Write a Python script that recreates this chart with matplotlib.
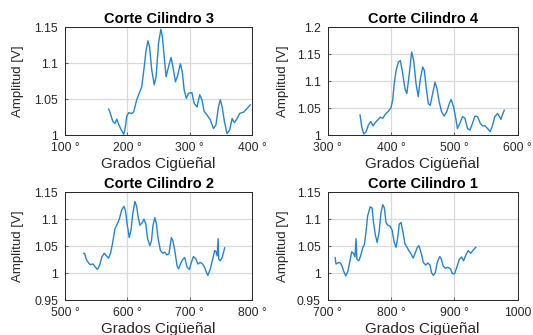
import matplotlib
matplotlib.use('Agg')
from matplotlib import pyplot as plt

plt.rcParams['font.family'] = ['Liberation Sans', 'DejaVu Sans']

# Corte Cilindro 3
c3_x = [170, 172.7, 176.6, 180, 183, 186, 189, 194, 196, 199, 202, 207, 210, 215, 219, 223, 227, 230,
        233, 235.5, 239, 243, 246, 250, 253.7, 256, 260, 262, 266, 270, 273, 277, 280, 285, 288, 291,
        294.5, 298, 303.5, 307, 311.6, 316, 319.6, 323, 327.6, 333, 338, 342, 346, 349, 352, 355.5,
        359.8, 364, 368, 371.6, 376, 380, 386.6, 392, 397]
c3_y = [1.036, 1.030, 1.019, 1.016, 1.022, 1.015, 1.009, 1.001, 1.007, 1.026, 1.031, 1.030, 1.032,
        1.049, 1.058, 1.067, 1.095, 1.118, 1.131, 1.123, 1.091, 1.070, 1.081, 1.128, 1.147, 1.137,
        1.100, 1.081, 1.095, 1.108, 1.095, 1.074, 1.081, 1.099, 1.088, 1.063, 1.051, 1.058, 1.059,
        1.044, 1.039, 1.056, 1.049, 1.033, 1.028, 1.021, 1.009, 1.014, 1.039, 1.049, 1.039, 1.019,
        1.002, 1.007, 1.023, 1.017, 1.023, 1.030, 1.032, 1.037, 1.042]

# Corte Cilindro 4
c4_x = [351, 353.7, 356.8, 360.5, 364, 367.9, 371.6, 375, 379, 383, 386.8, 392, 395.8, 400, 402.6,
        405, 408, 411.6, 414.7, 418.4, 422, 425, 428.9, 432.6, 435.8, 439.5, 443, 446, 450, 452.6,
        455.8, 459, 462, 465.8, 469.5, 472.6, 476, 480, 484, 488, 492, 495, 498.9, 502.6, 505, 508.9,
        513, 516.8, 521, 524.7, 528.9, 532.6, 536.8, 541, 544.7, 548.4, 552.6, 556.8, 560.5, 564,
        568.4, 571, 573.7, 576, 579]
c4_y = [1.037, 1.015, 1.002, 1.006, 1.018, 1.025, 1.017, 1.023, 1.028, 1.033, 1.031, 1.040, 1.044,
        1.051, 1.065, 1.095, 1.120, 1.135, 1.138, 1.114, 1.086, 1.077, 1.114, 1.154, 1.138, 1.095,
        1.071, 1.102, 1.126, 1.120, 1.086, 1.058, 1.055, 1.077, 1.098, 1.086, 1.062, 1.043, 1.035,
        1.043, 1.058, 1.066, 1.052, 1.029, 1.012, 1.022, 1.034, 1.031, 1.012, 1.009, 1.022, 1.035,
        1.034, 1.022, 1.017, 1.017, 1.012, 1.006, 1.018, 1.034, 1.040, 1.035, 1.029, 1.037, 1.046]

# Corte Cilindro 2
c2_x = [530, 531.7, 534, 537, 540, 545, 548.7, 552, 555.6, 559, 563, 565, 569.8, 573, 576, 580,
        583.6, 587, 591, 594.7, 597, 600, 603, 606, 608.5, 612, 614.8, 617, 620, 624, 626.5, 629.6,
        632, 636, 638.6, 641, 644, 646.6, 649, 653, 657, 660, 663, 666.7, 670.5, 673, 676, 679.6,
        682, 685, 689, 692, 695.8, 699.5, 702.6, 706, 710, 713, 717, 720.6, 723.8, 727.6, 729, 733,
        736.8, 740, 742, 744, 745.5, 746.5, 749, 752, 756]
c2_y = [1.037, 1.036, 1.026, 1.020, 1.016, 1.017, 1.011, 1.007, 1.015, 1.030, 1.037, 1.034, 1.028,
        1.037, 1.054, 1.082, 1.091, 1.100, 1.118, 1.124, 1.115, 1.088, 1.066, 1.081, 1.109, 1.133,
        1.124, 1.106, 1.089, 1.094, 1.100, 1.091, 1.066, 1.051, 1.060, 1.088, 1.103, 1.091, 1.066,
        1.042, 1.037, 1.039, 1.034, 1.036, 1.066, 1.060, 1.042, 1.014, 1.008, 1.017, 1.026, 1.029,
        1.011, 1.007, 1.020, 1.031, 1.026, 1.017, 1.020, 1.017, 1.011, 0.999, 0.996, 1.008, 1.026,
        1.042, 1.040, 1.032, 1.064, 1.026, 1.023, 1.029, 1.047]

# Corte Cilindro 1
c1_x = [711.6, 713, 715.8, 719, 722, 724.7, 728.4, 731.6, 734, 737.9, 741, 743, 744.7, 746, 749,
        751.6, 755, 758, 760.5, 763, 767, 770, 772, 775, 778, 781, 784, 787, 789.5, 792, 794.7, 798,
        801.6, 805, 808, 810.5, 813, 815.8, 819, 822, 825, 828, 831, 835, 838, 841.6, 844, 848, 851,
        855, 858, 861.6, 864, 866.8, 870, 873, 877, 879.5, 882.6, 886, 890, 894, 897, 900.5, 904,
        908, 911.6, 914.7, 918, 922, 926, 930, 934]
c1_y = [1.029, 1.017, 1.019, 1.020, 1.015, 1.005, 0.995, 1.003, 1.017, 1.040, 1.036, 1.030, 1.064,
        1.026, 1.023, 1.031, 1.046, 1.054, 1.078, 1.106, 1.123, 1.121, 1.097, 1.072, 1.057, 1.075,
        1.112, 1.127, 1.121, 1.094, 1.089, 1.088, 1.080, 1.057, 1.048, 1.066, 1.091, 1.094, 1.075,
        1.054, 1.049, 1.042, 1.037, 1.028, 1.037, 1.048, 1.051, 1.036, 1.020, 1.015, 1.019, 1.015,
        1.001, 0.996, 1.001, 1.020, 1.031, 1.026, 1.013, 1.009, 1.011, 1.008, 0.999, 0.999, 1.011,
        1.026, 1.030, 1.023, 1.033, 1.042, 1.037, 1.043, 1.048]

panels = [
    ('Corte Cilindro 3', c3_x, c3_y, [100, 200, 300, 400], ['100 °', '200 °', '300 °', '400 °'],
     [1, 1.05, 1.1, 1.15], ['1', '1.05', '1.1', '1.15']),
    ('Corte Cilindro 4', c4_x, c4_y, [300, 400, 500, 600], ['300 °', '400 °', '500 °', '600 °'],
     [1, 1.05, 1.1, 1.15, 1.2], ['1', '1.05', '1.1', '1.15', '1.2']),
    ('Corte Cilindro 2', c2_x, c2_y, [500, 600, 700, 800], ['500 °', '600 °', '700 °', '800 °'],
     [0.95, 1, 1.05, 1.1, 1.15], ['0.95', '1', '1.05', '1.1', '1.15']),
    ('Corte Cilindro 1', c1_x, c1_y, [700, 800, 900, 1000], ['700 °', '800 °', '900 °', '1000'],
     [0.95, 1, 1.05, 1.1, 1.15], ['0.95', '1', '1.05', '1.1', '1.15']),
]

positions = [
    [0.122, 0.597, 0.351, 0.322],
    [0.615, 0.597, 0.356, 0.322],
    [0.122, 0.104, 0.351, 0.322],
    [0.615, 0.104, 0.356, 0.322],
]
ylabel_x = [-0.22, -0.205, -0.22, -0.205]

fig = plt.figure(figsize=(5.33, 3.35), dpi=100)
frame = '#262626'

for pos, lx, (title, x, y, xt, xlab, yt, ylab) in zip(positions, ylabel_x, panels):
    ax = fig.add_axes(pos)
    ax.plot(x, y, color='#2484d0', lw=1.0)
    ax.set_xlim(xt[0], xt[-1])
    ax.set_ylim(yt[0], yt[-1])
    ax.set_xticks(xt)
    ax.set_xticklabels(xlab)
    ax.set_yticks(yt)
    ax.set_yticklabels(ylab)
    ax.grid(True, color='#d9d9d9', lw=0.9)
    ax.set_axisbelow(True)
    ax.tick_params(direction='in', length=2, width=0.5, colors=frame, labelsize=8.7)
    ax.tick_params(axis='x', pad=5)
    ax.tick_params(axis='y', pad=5)
    for s in ax.spines.values():
        s.set_color(frame)
        s.set_linewidth(0.7)
    ax.set_title(title, fontsize=10.5, fontweight='bold', color='black', pad=3)
    ax.set_xlabel('Grados Cigüeñal', fontsize=11, color=frame)
    ax.xaxis.set_label_coords(0.5, -0.2)
    ax.set_ylabel('Amplitud [V]', fontsize=9.5, color=frame)
    ax.yaxis.set_label_coords(lx, 0.5)

fig.savefig('out.png', dpi=100)
